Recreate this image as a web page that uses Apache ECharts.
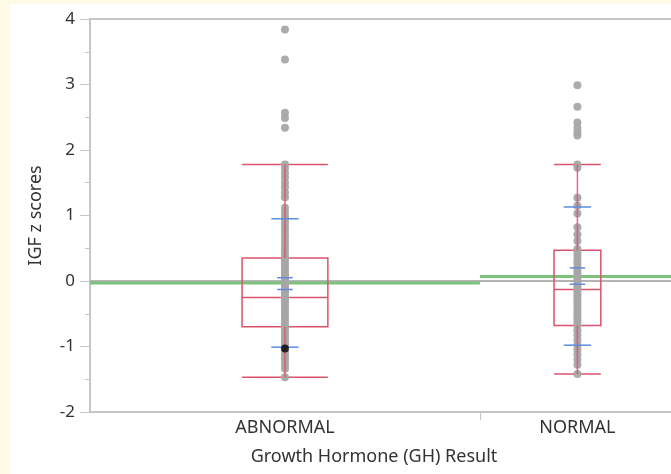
<!DOCTYPE html>
<html>
<head>
<meta charset="utf-8">
<script src="https://cdn.jsdelivr.net/npm/echarts@6/dist/echarts.min.js"></script>
<style>
  html, body { margin: 0; padding: 0; background: #fffae6; }
  #chart { width: 671px; height: 474px; }
</style>
</head>
<body>
<div id="chart"></div>
<script>
// groups on the x axis
const groups = ["ABNORMAL", "NORMAL"];

// IGF z scores, one array per group
const abnormalScores = [
  3.84, 3.38, 2.57, 2.49, 2.34,
  1.78, 1.72, 1.65, 1.58, 1.5, 1.43, 1.35, 1.28, 1.12, 1.05, 0.99, 0.93,
  0.88, 0.82, 0.77, 0.71, 0.66, 0.6, 0.55, 0.49, 0.44, 0.38, 0.33, 0.29,
  0.24, 0.19, 0.15, 0.1, 0.06, 0.02, -0.03, -0.07, -0.12, -0.16, -0.2,
  -0.25, -0.29, -0.33, -0.38, -0.42, -0.47, -0.51, -0.56, -0.6, -0.65,
  -0.7, -0.74, -0.79, -0.84, -0.88, -0.93, -0.97, -1.08, -1.13, -1.18,
  -1.23, -1.29, -1.34, -1.47
];
const normalScores = [
  2.99, 2.66, 2.42, 2.34, 2.27, 2.22,
  1.78, 1.73, 1.27, 1.15, 1.03, 0.82, 0.71, 0.61, 0.49,
  0.44, 0.38, 0.32, 0.27, 0.21, 0.16, 0.12, 0.07, 0.02, -0.03, -0.08,
  -0.13, -0.18, -0.23, -0.28, -0.33, -0.38, -0.43, -0.48, -0.53, -0.58,
  -0.63, -0.68, -0.75, -0.83, -0.9, -0.98, -1.05, -1.12, -1.2, -1.28, -1.42
];
// highlighted (selected) row
const selectedScore = [-1.03];

// box stats per group: lower whisker, Q1, median, Q3, upper whisker
const lowerWhisker = [-1.47, -1.42];
const quartile1 = [-0.7, -0.68];
const medians = [-0.25, -0.13];
const quartile3 = [0.35, 0.47];
const upperWhisker = [1.78, 1.78];

// means, mean +/- 1 sd, 95% ci of mean
const groupMeans = [-0.03, 0.07];
const meanPlusSd = [0.95, 1.13];
const meanMinusSd = [-1.01, -0.98];
const ciUpper = [0.05, 0.2];
const ciLower = [-0.13, -0.05];
const grandMean = 0.0;

const yTicks = [-2, -1, 0, 1, 2, 3, 4];

// layout: group spans on the x scale (width follows group size)
const spans = [[0, 2], [2, 3]];
const centers = spans.map((s) => (s[0] + s[1]) / 2);
const boxHalf = [0.22, 0.12];

const RED = "#d9546b";
const BLUE = "#5b8ede";
const GREEN = "#7cc27c";
const DOT = "#a6a6a6";
const AXIS = "#c6c6c6";
const FONT = "Noto Sans";
const TXT = "#333333";

let chart = echarts.init(document.getElementById("chart"));

const pts = [];
abnormalScores.forEach((v) => pts.push([centers[0], v]));
normalScores.forEach((v) => pts.push([centers[1], v]));

const boxData = groups.map((g, i) => [centers[i], lowerWhisker[i], quartile1[i], medians[i], quartile3[i], upperWhisker[i]]);

function hline(api, x0, x1, y, style) {
  const a = api.coord([x0, y]);
  const b = api.coord([x1, y]);
  return { type: "line", shape: { x1: a[0], y1: a[1], x2: b[0], y2: b[1] }, style: style };
}

const options = {
  backgroundColor: "#fffae6",
  animation: false,
  graphic: {
    elements: [
      // white report panel
      { type: "rect", z: -100, shape: { x: 10, y: 4, width: 700, height: 500 }, style: { fill: "#ffffff" } },
      // top frame of the plot
      { type: "line", z: 10, shape: { x1: 89, y1: 19, x2: 671, y2: 19 }, style: { stroke: AXIS, lineWidth: 2 } },
    ],
  },
  grid: {
    left: 90,
    right: 0,
    top: 19,
    bottom: 62,
  },
  xAxis: {
    type: "value",
    min: 0,
    max: 2.98,
    name: "Growth Hormone (GH) Result",
    nameLocation: "middle",
    nameGap: 36,
    nameTextStyle: { fontFamily: FONT, fontSize: 18, color: TXT, padding: [0, 13, 0, 0] },
    splitLine: { show: false },
    axisLine: { onZero: false, lineStyle: { color: AXIS, width: 2 } },
    axisTick: { show: true, customValues: [spans[0][1]], length: 8, lineStyle: { color: AXIS } },
    axisLabel: {
      customValues: centers,
      margin: 7,
      fontFamily: FONT,
      fontSize: 18,
      color: TXT,
      formatter: (v) => groups[centers.indexOf(v)] || "",
    },
  },
  yAxis: {
    type: "value",
    min: -2,
    max: 4,
    interval: 1,
    name: "IGF z scores",
    nameLocation: "middle",
    nameGap: 45,
    nameTextStyle: { fontFamily: FONT, fontSize: 18, color: TXT },
    splitLine: { show: false },
    axisLine: { show: true, onZero: false, lineStyle: { color: AXIS, width: 2 } },
    axisTick: { show: true, length: 10, lineStyle: { color: AXIS } },
    minorTick: { show: true, splitNumber: 2, length: 5, lineStyle: { color: AXIS } },
    axisLabel: {
      margin: 15,
      fontFamily: FONT,
      fontSize: 17,
      color: TXT,
      formatter: (v) => (yTicks.indexOf(v) >= 0 ? String(v) : ""),
    },
  },
  series: [
    {
      // grand mean line
      type: "custom",
      z: 1,
      data: [[grandMean]],
      renderItem: (params, api) => hline(api, 0, 2.98, api.value(0), { stroke: "#b4b4b4", lineWidth: 2 }),
    },
    {
      // group mean lines
      type: "custom",
      z: 2,
      data: groups.map((g, i) => [spans[i][0], spans[i][1], groupMeans[i]]),
      renderItem: (params, api) => hline(api, api.value(0), api.value(1), api.value(2), { stroke: GREEN, lineWidth: 3 }),
    },
    {
      // boxes
      type: "custom",
      z: 3,
      data: boxData,
      renderItem: (params, api) => {
        const i = params.dataIndex;
        const x = api.value(0);
        const hw = boxHalf[i];
        const tl = api.coord([x - hw, api.value(4)]);
        const br = api.coord([x + hw, api.value(2)]);
        const st = { stroke: RED, lineWidth: 1.5, fill: null };
        return {
          type: "group",
          children: [
            { type: "rect", shape: { x: tl[0], y: tl[1], width: br[0] - tl[0], height: br[1] - tl[1] }, style: { stroke: RED, lineWidth: 1.5, fill: "none" } },
            hline(api, x - hw, x + hw, api.value(3), st),
            hline(api, x - hw, x + hw, api.value(1), st),
            hline(api, x - hw, x + hw, api.value(5), st),
          ],
        };
      },
    },
    {
      type: "scatter",
      z: 4,
      symbolSize: 8,
      itemStyle: { color: DOT, opacity: 0.95 },
      data: pts,
    },
    {
      // whisker stems
      type: "custom",
      z: 5,
      data: boxData,
      renderItem: (params, api) => {
        const x = api.value(0);
        const lo = api.coord([x, api.value(1)]);
        const q1 = api.coord([x, api.value(2)]);
        const q3 = api.coord([x, api.value(4)]);
        const hi = api.coord([x, api.value(5)]);
        const st = { stroke: RED, lineWidth: 1.5, opacity: 0.85 };
        return {
          type: "group",
          children: [
            { type: "line", shape: { x1: lo[0], y1: lo[1], x2: q1[0], y2: q1[1] }, style: st },
            { type: "line", shape: { x1: q3[0], y1: q3[1], x2: hi[0], y2: hi[1] }, style: st },
          ],
        };
      },
    },
    {
      // mean +/- sd and ci marks
      type: "custom",
      z: 6,
      data: groups.map((g, i) => [centers[i], meanPlusSd[i], meanMinusSd[i], ciUpper[i], ciLower[i]]),
      renderItem: (params, api) => {
        const x = api.value(0);
        const sd = 0.07;
        const ci = 0.04;
        const st = { stroke: BLUE, lineWidth: 1.5 };
        return {
          type: "group",
          children: [
            hline(api, x - sd, x + sd, api.value(1), st),
            hline(api, x - sd, x + sd, api.value(2), st),
            hline(api, x - ci, x + ci, api.value(3), st),
            hline(api, x - ci, x + ci, api.value(4), st),
          ],
        };
      },
    },
    {
      type: "scatter",
      z: 7,
      symbolSize: 8,
      itemStyle: { color: "#000000" },
      data: selectedScore.map((v) => [centers[0], v]),
    },
  ],
};

chart.setOption(options);
</script>
</body>
</html>
